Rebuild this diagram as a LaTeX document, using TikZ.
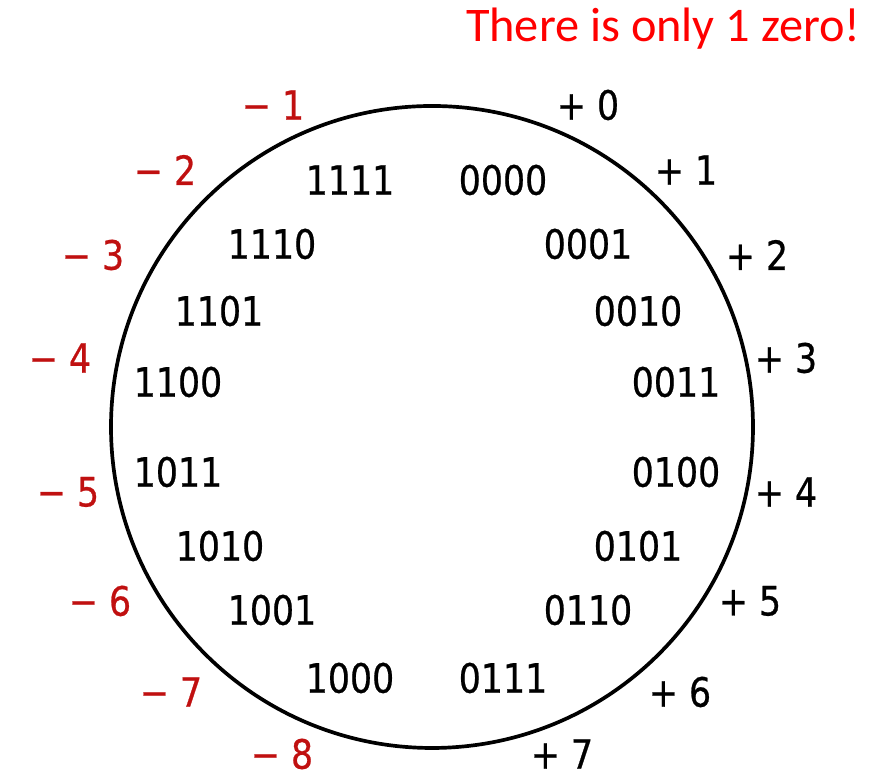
\documentclass[tikz,border=0pt]{standalone}
\usepackage{xcolor}
\usepackage{fontspec}
\usepackage{tikz}
\usetikzlibrary{positioning}
\newfontfamily\numfont[FakeStretch=0.86,FakeBold=0.6]{DejaVu Sans}
\newfontfamily\notefont{Carlito}
\definecolor{negred}{RGB}{192,16,16}
\tikzset{
  bits/.style={inner sep=0pt, anchor=center, font=\numfont\fontsize{23}{26}\selectfont},
  posval/.style={inner sep=0pt, anchor=center, font=\numfont\fontsize{23}{26}\selectfont},
  negval/.style={inner sep=0pt, anchor=center, text=negred, font=\numfont\fontsize{23}{26}\selectfont},
  note/.style={inner sep=0pt, text=red, font=\notefont\fontsize{27.5}{30}\selectfont},
  ring/.style={draw=black, line width=2.1pt},
}
\begin{document}
\begin{tikzpicture}
\useasboundingbox (0,0) rectangle (17.48,15.54);
\node[note, anchor=north east] (note) at (17.22,15.38){There is only 1 zero!};
% the ring
\coordinate (c) at (8.64,7.00);
\draw[ring] (c) circle (6.42);
% bit patterns inside
\node[bits] (b1111) at (7.00,11.94){1111};
\node[bits] (b0000) at (10.06,11.94){0000};
\node[bits] (b1110) at (5.44,10.66){1110};
\node[bits] (b0001) at (11.76,10.66){0001};
\node[bits] (b1101) at (4.38,9.32){1101};
\node[bits] (b0010) at (12.76,9.32){0010};
\node[bits] (b1100) at (3.56,7.90){1100};
\node[bits] (b0011) at (13.52,7.90){0011};
\node[bits] (b1011) at (3.56,6.10){1011};
\node[bits] (b0100) at (13.52,6.10){0100};
\node[bits] (b1010) at (4.40,4.62){1010};
\node[bits] (b0101) at (12.76,4.62){0101};
\node[bits] (b1001) at (5.44,3.34){1001};
\node[bits] (b0110) at (11.76,3.34){0110};
\node[bits] (b1000) at (7.00,1.98){1000};
\node[bits] (b0111) at (10.06,1.98){0111};
% values outside
\node[negval] (m1) at (5.46,13.44){− 1};
\node[posval] (p0) at (11.76,13.44){+ 0};
\node[negval] (m2) at (3.30,12.14){− 2};
\node[posval] (p1) at (13.72,12.14){+ 1};
\node[negval] (m3) at (1.86,10.44){− 3};
\node[posval] (p2) at (15.14,10.44){+ 2};
\node[negval] (m4) at (1.20,8.38){− 4};
\node[posval] (p3) at (15.72,8.38){+ 3};
\node[negval] (m5) at (1.36,5.70){− 5};
\node[posval] (p4) at (15.72,5.70){+ 4};
\node[negval] (m6) at (2.00,3.52){− 6};
\node[posval] (p5) at (15.00,3.52){+ 5};
\node[negval] (m7) at (3.42,1.70){− 7};
\node[posval] (p6) at (13.60,1.70){+ 6};
\node[negval] (m8) at (5.64,0.46){− 8};
\node[posval] (p7) at (11.24,0.46){+ 7};
\end{tikzpicture}
\end{document}
